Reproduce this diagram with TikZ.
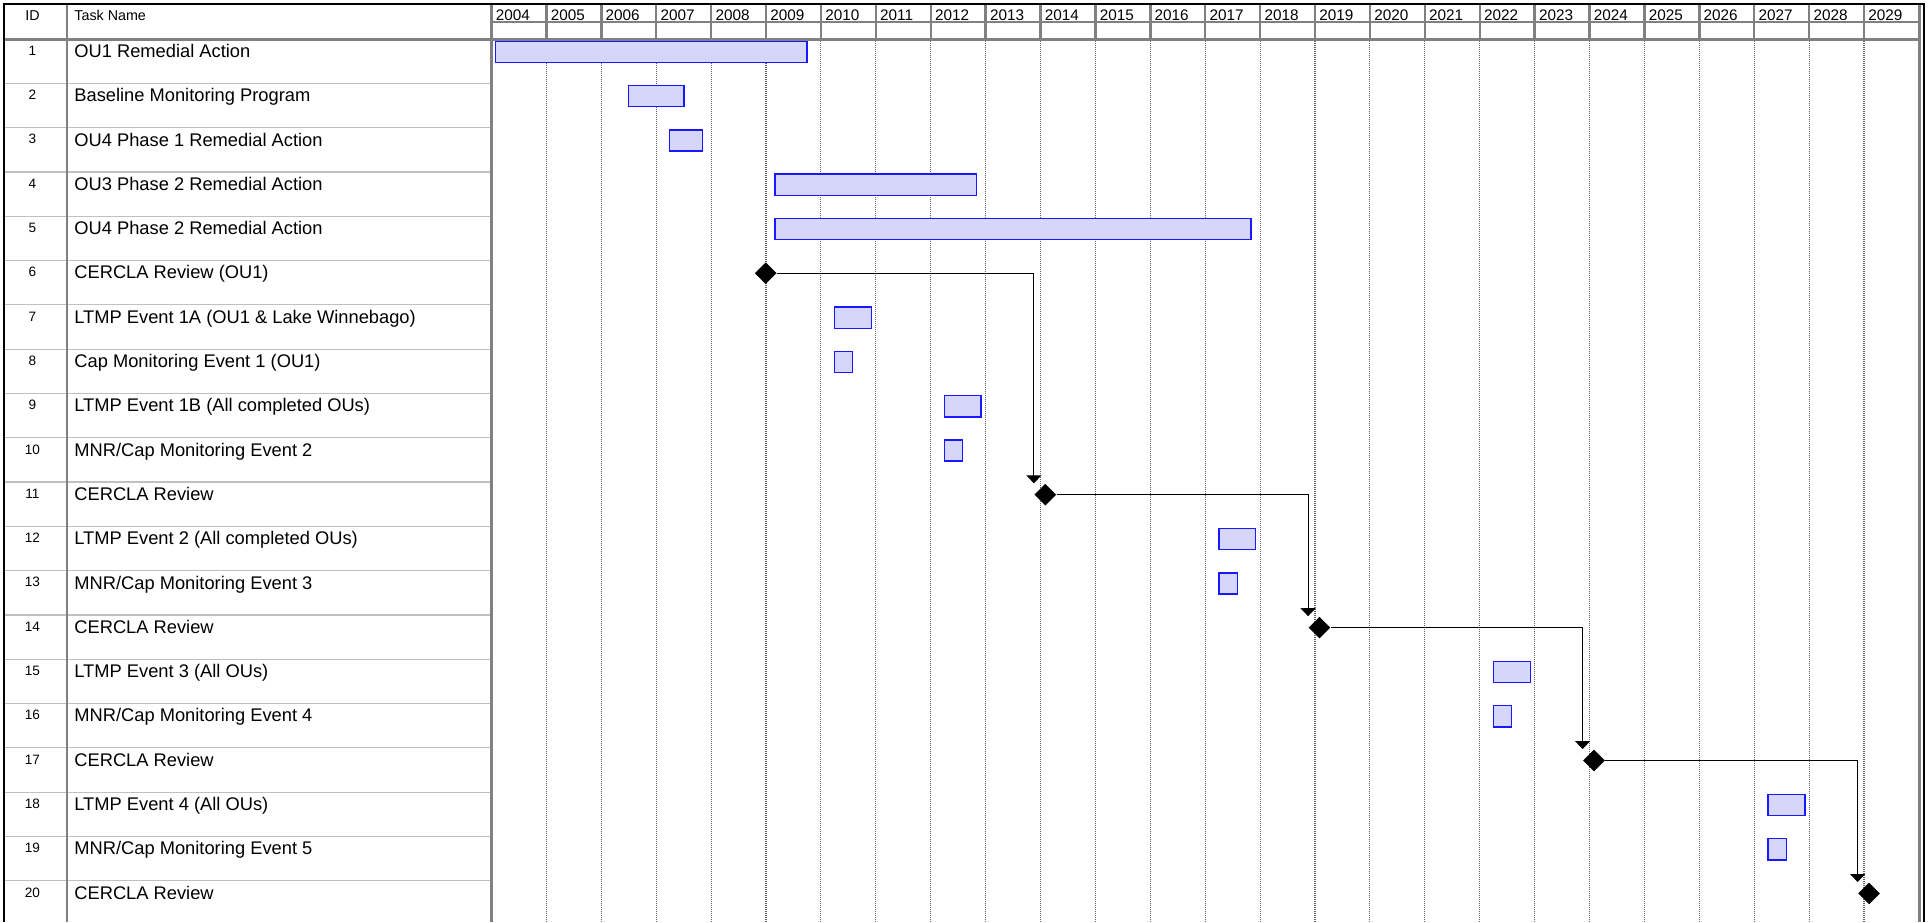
\documentclass[tikz,border=0pt]{standalone}
\usepackage{fontspec}
\setmainfont{Liberation Sans}
\usetikzlibrary{shapes.geometric,arrows.meta}
\definecolor{gridgray}{RGB}{128,128,128}
\definecolor{dotgray}{RGB}{95,95,95}
\definecolor{rowgray}{RGB}{192,192,192}
\definecolor{barfill}{RGB}{214,214,250}
\definecolor{barblue}{RGB}{25,25,255}
\newcommand\ganttbar[3]{\draw[taskbar] (#2,{39+(#1-1)*44.3+2.2}) rectangle (#3,{39+(#1-1)*44.3+23.4});}
\begin{document}
\begin{tikzpicture}[x=0.5pt,y=-0.5pt,
  tasktxt/.style={anchor=base west, inner sep=0pt, font=\fontsize{9.15}{11}\selectfont},
  idtxt/.style={anchor=base, inner sep=0pt, font=\fontsize{6.8}{8}\selectfont},
  hdrtxt/.style={anchor=base west, inner sep=0pt, font=\fontsize{7.15}{9}\selectfont},
  yeartxt/.style={anchor=base west, inner sep=0pt, font=\fontsize{7.65}{9}\selectfont},
  taskbar/.style={draw=barblue, fill=barfill, line width=0.7pt},
  milestone/.style={diamond, fill=black, inner sep=0pt, minimum width=11pt, minimum height=11pt},
  conn/.style={draw=black, line width=0.55pt, -{Triangle[width=7.5pt,length=4pt]}},
  gridline/.style={draw=dotgray, line width=0.55pt, dash pattern=on 0.5pt off 0.5pt},
  hdrline/.style={draw=gridgray, line width=1.2pt},
  rowsep/.style={draw=rowgray, line width=0.6pt},
  border/.style={draw=black, line width=1.1pt}]
\useasboundingbox (0,0) rectangle (1929,922);

% dotted year gridlines
\foreach \k in {1,...,25} \draw[gridline] ({491.5+\k*54.9},41) -- ({491.5+\k*54.9},922);

% row separators in the table
\foreach \i in {2,...,20} \draw[rowsep] (4,{39+(\i-1)*44.3}) -- (491.5,{39+(\i-1)*44.3});

% header lines
\foreach \k in {1,...,25} \draw[hdrline] ({491.5+\k*54.9},4) -- ({491.5+\k*54.9},39.3);
\draw[hdrline] (491.5,21.7) -- (1919.3,21.7);
\draw[hdrline] (4,39.3) -- (1919.3,39.3);
\draw[hdrline] (67,4) -- (67,922);
\draw[hdrline] (491.5,4) -- (491.5,922);
\draw[hdrline] (1919.3,4) -- (1919.3,922);
\draw[border] (3.7,922) -- (3.7,4.3) -- (1923.7,4.3) -- (1923.7,922);

% header text
\node[idtxt, font=\fontsize{7.15}{9}\selectfont] (hid) at (32.5,20) {ID};
\node[hdrtxt] (hname) at (74,20) {Task Name};
\foreach \k in {0,...,25} {
  \pgfmathtruncatemacro\yr{2004+\k}
  \node[yeartxt] (y\yr) at ({491.5+\k*54.9+4},20) {\yr};
}

% IDs
\foreach \i in {1,...,20} \node[idtxt] (id\i) at (32.5,{39+(\i-1)*44.3+16.3}) {\i};

% task names
\node[tasktxt] (t1)  at (74,{39+0*44.3+18.4})  {OU1 Remedial Action};
\node[tasktxt] (t2)  at (74,{39+1*44.3+18.4})  {Baseline Monitoring Program};
\node[tasktxt] (t3)  at (74,{39+2*44.3+18.4})  {OU4 Phase 1 Remedial Action};
\node[tasktxt] (t4)  at (74,{39+3*44.3+18.4})  {OU3 Phase 2 Remedial Action};
\node[tasktxt] (t5)  at (74,{39+4*44.3+18.4})  {OU4 Phase 2 Remedial Action};
\node[tasktxt] (t6)  at (74,{39+5*44.3+18.4})  {CERCLA Review (OU1)};
\node[tasktxt] (t7)  at (74,{39+6*44.3+18.4})  {LTMP Event 1A (OU1 \& Lake Winnebago)};
\node[tasktxt] (t8)  at (74,{39+7*44.3+18.4})  {Cap Monitoring Event 1 (OU1)};
\node[tasktxt] (t9)  at (74,{39+8*44.3+18.4})  {LTMP Event 1B (All completed OUs)};
\node[tasktxt] (t10) at (74,{39+9*44.3+18.4})  {MNR/Cap Monitoring Event 2};
\node[tasktxt] (t11) at (74,{39+10*44.3+18.4}) {CERCLA Review};
\node[tasktxt] (t12) at (74,{39+11*44.3+18.4}) {LTMP Event 2 (All completed OUs)};
\node[tasktxt] (t13) at (74,{39+12*44.3+18.4}) {MNR/Cap Monitoring Event 3};
\node[tasktxt] (t14) at (74,{39+13*44.3+18.4}) {CERCLA Review};
\node[tasktxt] (t15) at (74,{39+14*44.3+18.4}) {LTMP Event 3 (All OUs)};
\node[tasktxt] (t16) at (74,{39+15*44.3+18.4}) {MNR/Cap Monitoring Event 4};
\node[tasktxt] (t17) at (74,{39+16*44.3+18.4}) {CERCLA Review};
\node[tasktxt] (t18) at (74,{39+17*44.3+18.4}) {LTMP Event 4 (All OUs)};
\node[tasktxt] (t19) at (74,{39+18*44.3+18.4}) {MNR/Cap Monitoring Event 5};
\node[tasktxt] (t20) at (74,{39+19*44.3+18.4}) {CERCLA Review};

% bars
\ganttbar{1}{495.7}{807}
\ganttbar{2}{628.6}{684}
\ganttbar{3}{669.3}{702.5}
\ganttbar{4}{775}{976.7}
\ganttbar{5}{775}{1251}
\ganttbar{7}{834.3}{871.3}
\ganttbar{8}{834.3}{852.7}
\ganttbar{9}{944.3}{981}
\ganttbar{10}{944.3}{962.7}
\ganttbar{12}{1218.8}{1255.5}
\ganttbar{13}{1218.8}{1237.2}
\ganttbar{15}{1493.3}{1530.3}
\ganttbar{16}{1493.3}{1511.7}
\ganttbar{18}{1768}{1805}
\ganttbar{19}{1768}{1786.4}

% milestones
\node[milestone] (m6)  at (765.7,{39+5*44.3+12.7})  {};
\node[milestone] (m11) at (1045.3,{39+10*44.3+12.7}) {};
\node[milestone] (m14) at (1319.5,{39+13*44.3+12.7}) {};
\node[milestone] (m17) at (1594,{39+16*44.3+12.7})  {};
\node[milestone] (m20) at (1869,{39+19*44.3+12.7})  {};

% links
\draw[conn] (m6.east)  -| (m11.west |- m11.north);
\draw[conn] (m11.east) -| (m14.west |- m14.north);
\draw[conn] (m14.east) -| (m17.west |- m17.north);
\draw[conn] (m17.east) -| (m20.west |- m20.north);
\end{tikzpicture}
\end{document}
